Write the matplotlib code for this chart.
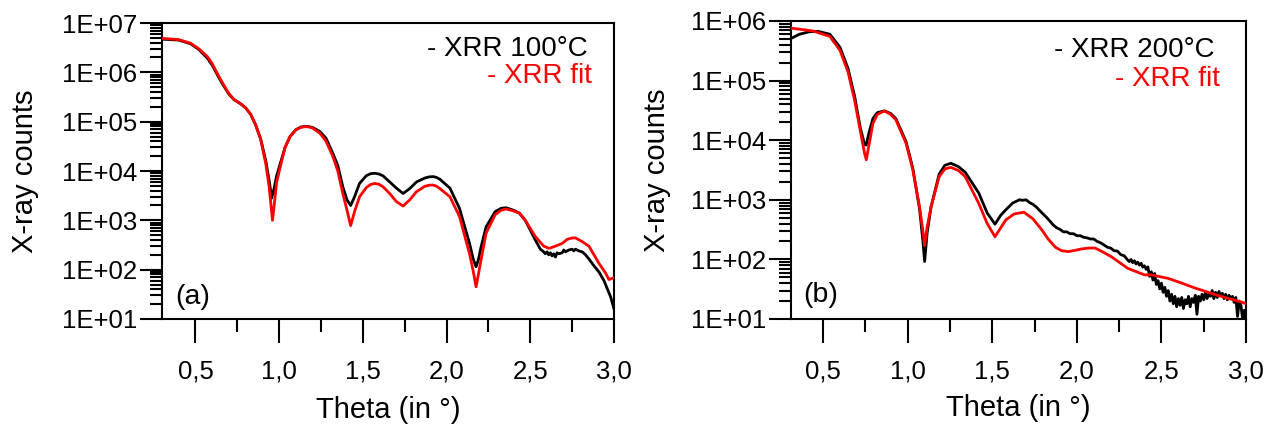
import numpy as np
import matplotlib
matplotlib.use("Agg")
import matplotlib.pyplot as plt
from matplotlib.ticker import FixedLocator, LogLocator, FuncFormatter, NullFormatter

plt.rcParams['font.family'] = ['Liberation Sans', 'DejaVu Sans']

# ---------------- Panel (a): 100 °C ----------------
theta_a_meas = [0.30, 0.40, 0.47, 0.52, 0.57, 0.60, 0.63, 0.66, 0.70, 0.73, 0.77, 0.80, 0.83, 0.86,
                0.89, 0.92, 0.94, 0.955, 0.97, 0.985, 1.006, 1.035, 1.065, 1.10, 1.13, 1.155, 1.18,
                1.20, 1.244, 1.28, 1.32, 1.35, 1.38, 1.405, 1.427, 1.45, 1.48, 1.52, 1.545, 1.57,
                1.595, 1.62, 1.66, 1.70, 1.74, 1.78, 1.82, 1.87, 1.895, 1.92, 1.94, 1.96, 2.02,
                2.077, 2.137, 2.16, 2.176, 2.19, 2.206, 2.236, 2.29, 2.325, 2.355, 2.40, 2.435,
                2.47, 2.53, 2.56, 2.58, 2.59, 2.60, 2.61, 2.62, 2.63, 2.64,
                2.65, 2.66, 2.67, 2.69, 2.70, 2.71, 2.73, 2.75, 2.76, 2.77, 2.79, 2.81, 2.83, 2.85,
                2.88, 2.91, 2.94, 2.96, 2.98, 3.00]
counts_a_meas = [4.7e6, 4.5e6, 3.8e6, 2.9e6, 1.95e6, 1.4e6, 9.0e5, 5.9e5, 3.6e5, 2.8e5, 2.3e5, 1.9e5,
                 1.4e5, 8.5e4, 4.4e4, 1.6e4, 6.5e3, 2.8e3, 4.5e3, 8.0e3, 1.4e4, 3.0e4, 5.0e4, 6.9e4,
                 7.8e4, 8.0e4, 7.9e4, 7.6e4, 6.3e4, 4.6e4, 2.3e4, 1.3e4, 4.8e3, 2.6e3, 2.0e3, 3.0e3,
                 5.6e3, 8.0e3, 8.8e3, 9.0e3, 8.7e3, 8.0e3, 6.0e3, 4.5e3, 3.5e3, 4.4e3, 6.0e3, 7.2e3,
                 7.6e3, 7.7e3, 7.4e3, 6.8e3, 4.5e3, 1.75e3, 3.4e2, 1.6e2, 1.15e2, 1.6e2, 2.9e2, 7.4e2,
                 1.5e3, 1.75e3, 1.8e3, 1.6e3, 1.4e3, 1.0e3, 4.0e2,
                 2.6e2, 2.3e2, 2.1e2, 2.3e2, 2.0e2, 2.2e2, 1.9e2, 2.1e2, 1.8e2, 2.2e2, 2.1e2, 2.2e2,
                 2.5e2, 2.3e2, 2.5e2, 2.6e2, 2.4e2, 2.6e2, 2.4e2, 2.3e2, 2.0e2, 1.65e2, 1.2e2, 90,
                 60, 41, 28, 16]

theta_a_fit = [0.30, 0.40, 0.47, 0.52, 0.57, 0.60, 0.63, 0.66, 0.70, 0.73, 0.77, 0.80, 0.83, 0.86,
               0.89, 0.92, 0.94, 0.95, 0.96, 0.97, 0.985, 1.006, 1.035, 1.065, 1.10, 1.13, 1.155,
               1.18, 1.20, 1.244, 1.28, 1.32, 1.35, 1.38, 1.405, 1.427, 1.45, 1.48, 1.52, 1.545,
               1.57, 1.595, 1.62, 1.66, 1.70, 1.74, 1.78, 1.82, 1.87, 1.895, 1.92, 1.94, 1.96, 2.02,
               2.077, 2.137, 2.16, 2.176, 2.19, 2.206, 2.236, 2.29, 2.325, 2.355, 2.40, 2.435, 2.47,
               2.53, 2.58, 2.613, 2.65, 2.69, 2.72, 2.75, 2.77, 2.81, 2.85, 2.91, 2.95, 2.97, 3.00]
counts_a_fit = [4.9e6, 4.6e6, 3.9e6, 3.0e6, 2.1e6, 1.5e6, 9.5e5, 6.2e5, 3.7e5, 2.8e5, 2.3e5, 1.9e5,
                1.4e5, 8.5e4, 4.3e4, 1.4e4, 4.8e3, 2.2e3, 1.0e3, 2.0e3, 6.0e3, 1.2e4, 3.0e4, 5.0e4,
                6.8e4, 7.7e4, 7.9e4, 7.8e4, 7.4e4, 5.8e4, 4.0e4, 2.0e4, 1.0e4, 3.5e3, 1.6e3, 7.8e2,
                1.5e3, 3.0e3, 4.6e3, 5.3e3, 5.6e3, 5.4e3, 4.8e3, 3.5e3, 2.4e3, 1.95e3, 2.6e3, 3.8e3,
                4.9e3, 5.15e3, 5.2e3, 4.9e3, 4.4e3, 3.0e3, 1.2e3, 2.1e2, 90, 45, 80, 1.6e2, 5.5e2,
                1.3e3, 1.6e3, 1.7e3, 1.55e3, 1.4e3, 1.0e3, 4.7e2, 3.0e2, 2.7e2, 3.0e2, 3.4e2, 4.1e2,
                4.4e2, 4.4e2, 3.7e2, 3.0e2, 1.35e2, 85, 63, 69]

# ---------------- Panel (b): 200 °C ----------------
theta_b_meas = [0.31, 0.36, 0.42, 0.47, 0.54, 0.60, 0.647, 0.686, 0.72, 0.745, 0.755, 0.77, 0.794,
                0.82, 0.863, 0.90, 0.93, 0.99, 1.03, 1.07, 1.09, 1.10, 1.115, 1.138, 1.186, 1.22,
                1.255, 1.30, 1.34, 1.42, 1.47, 1.516, 1.55, 1.58, 1.62, 1.66, 1.68, 1.70, 1.72,
                1.74, 1.76, 1.78, 1.80, 1.82, 1.84, 1.86, 1.88, 1.90, 1.92, 1.94, 1.96, 1.98, 2.00,
                2.02, 2.04, 2.06, 2.08, 2.10, 2.12, 2.14, 2.16, 2.18, 2.20, 2.22, 2.24, 2.26, 2.28,
                2.30, 2.31, 2.32, 2.33, 2.34, 2.35, 2.36, 2.37, 2.38, 2.39, 2.40, 2.41, 2.42, 2.43,
                2.44, 2.45, 2.46, 2.47, 2.48, 2.49, 2.50, 2.51, 2.52, 2.53, 2.54, 2.55, 2.56, 2.57,
                2.58, 2.59, 2.60, 2.61, 2.62, 2.63, 2.64, 2.65, 2.66, 2.67, 2.68, 2.69, 2.70, 2.71,
                2.72, 2.73, 2.74, 2.75, 2.76, 2.77, 2.78, 2.79, 2.80, 2.81, 2.82, 2.83, 2.84, 2.85,
                2.86, 2.87, 2.88, 2.89, 2.90, 2.91, 2.92, 2.93, 2.94, 2.95, 2.96, 2.97, 2.98, 2.99,
                3.00]
counts_b_meas = [5.1e5, 6.0e5, 6.6e5, 6.7e5, 6.0e5, 3.6e5, 1.6e5, 5.5e4, 1.6e4, 8.5e3, 8.3e3, 1.3e4,
                 2.3e4, 2.9e4, 3.1e4, 2.8e4, 2.3e4, 9.5e3, 3.4e3, 7.0e2, 2.0e2, 92, 2.8e2, 7.6e2,
                 2.7e3, 3.8e3, 4.1e3, 3.6e3, 2.9e3, 1.3e3, 6.0e2, 3.9e2, 5.5e2, 6.8e2, 8.8e2, 1.0e3,
                 9.8e2, 1.0e3, 9.0e2, 8.4e2, 7.6e2, 6.6e2, 5.8e2, 5.1e2, 4.4e2, 3.8e2, 3.4e2, 3.2e2,
                 2.9e2, 2.9e2, 2.7e2, 2.7e2, 2.5e2, 2.5e2, 2.35e2, 2.3e2, 2.2e2, 2.2e2, 2.0e2, 1.9e2,
                 1.75e2, 1.6e2, 1.55e2, 1.4e2, 1.38e2, 1.2e2, 1.15e2,
                 98, 92, 100, 88, 95, 84, 90, 80, 86, 74, 78, 68, 75, 52, 62, 45, 58, 38, 44, 32,
                 40, 28, 34, 24, 30, 20, 26, 18, 24, 16, 22, 17, 23, 15, 21, 18, 24, 16, 22, 19,
                 25, 12, 24, 20, 26, 21, 28, 22, 27, 24, 30, 22, 28, 23, 29, 25, 27, 22, 26, 21,
                 25, 22, 24, 19, 23, 11, 20, 17, 10, 14, 10]

theta_b_fit = [0.31, 0.44, 0.54, 0.60, 0.647, 0.686, 0.726, 0.745, 0.755, 0.77, 0.794, 0.82, 0.863,
               0.90, 0.93, 0.99, 1.03, 1.07, 1.09, 1.10, 1.115, 1.138, 1.186, 1.22, 1.255, 1.30,
               1.34, 1.42, 1.47, 1.516, 1.55, 1.58, 1.63, 1.687, 1.74, 1.794, 1.83, 1.873, 1.91,
               1.95, 1.99, 2.03, 2.07, 2.108, 2.15, 2.206, 2.30, 2.40, 2.44, 2.54, 2.62, 2.70,
               2.83, 2.98, 3.00]
counts_b_fit = [7.6e5, 6.8e5, 5.5e5, 3.2e5, 1.4e5, 4.7e4, 1.15e4, 6.0e3, 4.7e3, 8.0e3, 1.9e4, 2.7e4,
                3.1e4, 2.7e4, 2.2e4, 8.9e3, 3.2e3, 7.6e2, 3.0e2, 1.7e2, 3.5e2, 7.6e2, 2.45e3, 3.3e3,
                3.5e3, 3.1e3, 2.45e3, 8.7e2, 4.0e2, 2.4e2, 3.4e2, 4.6e2, 5.8e2, 6.2e2, 4.8e2, 3.1e2,
                2.2e2, 1.6e2, 1.4e2, 1.35e2, 1.42e2, 1.5e2, 1.55e2, 1.55e2, 1.35e2, 1.1e2, 71, 55,
                55, 48, 40, 33, 25, 19, 18]

x_major = [0.5, 1.0, 1.5, 2.0, 2.5, 3.0]
x_minor = [0.75, 1.25, 1.75, 2.25, 2.75]
x_labels = ["0,5", "1,0", "1,5", "2,0", "2,5", "3,0"]

panels = [
    dict(rect=[162 / 1268, 1 - 319 / 428, 452 / 1268, 296 / 428], xlim=(0.30, 3.0), ylim=(10, 1e7),
         meas=(theta_a_meas, counts_a_meas), fit=(theta_a_fit, counts_a_fit),
         leg1="- XRR 100°C", leg1pos=(0.9425, 0.8885), leg2pos=(0.952, 0.797),
         tag="(a)", tagpos=(0.029, 0.076), ylab_x=-0.303, xlab_y=-0.307),
    dict(rect=[791 / 1268, 1 - 319 / 428, 455 / 1268, 298 / 428], xlim=(0.31, 3.0), ylim=(10, 1e6),
         meas=(theta_b_meas, counts_b_meas), fit=(theta_b_fit, counts_b_fit),
         leg1="- XRR 200°C", leg1pos=(0.932, 0.878), leg2pos=(0.943, 0.781),
         tag="(b)", tagpos=(0.026, 0.079), ylab_x=-0.2945, xlab_y=-0.299),
]

fig = plt.figure(figsize=(12.68, 4.28), dpi=100)

def ylab_fmt(v, pos):
    e = int(round(np.log10(v)))
    return f"1E+{e:02d}"

for p in panels:
    ax = fig.add_axes(p["rect"])
    ax.plot(p["meas"][0], p["meas"][1], color="black", lw=2.0, zorder=2)
    ax.plot(p["fit"][0], p["fit"][1], color="#ff0000", lw=2.0, zorder=3)
    ax.set_yscale("log")
    ax.set_xlim(*p["xlim"])
    ax.set_ylim(*p["ylim"])
    ax.xaxis.set_major_locator(FixedLocator(x_major))
    ax.xaxis.set_minor_locator(FixedLocator(x_minor))
    ax.set_xticklabels(x_labels)
    ax.yaxis.set_major_locator(LogLocator(base=10, numticks=20))
    ax.yaxis.set_minor_locator(LogLocator(base=10, subs=np.arange(2, 10), numticks=20))
    ax.yaxis.set_major_formatter(FuncFormatter(ylab_fmt))
    ax.yaxis.set_minor_formatter(NullFormatter())
    ax.tick_params(axis="both", which="both", direction="out", width=1.5, top=False, right=False)
    ax.tick_params(axis="x", which="major", length=17, pad=12, labelsize=18.5)
    ax.tick_params(axis="x", which="minor", length=9)
    ax.tick_params(axis="y", which="major", length=16, pad=2, labelsize=18.5)
    ax.tick_params(axis="y", which="minor", length=9)
    for s in ax.spines.values():
        s.set_linewidth(1.5)
    ax.set_ylabel("X-ray counts", fontsize=21)
    ax.yaxis.label.set_va("center")
    ax.yaxis.set_label_coords(p["ylab_x"], 0.5)
    ax.set_xlabel("Theta (in °)", fontsize=21)
    ax.xaxis.label.set_va("center")
    ax.xaxis.set_label_coords(0.5, p["xlab_y"])
    ax.text(*p["leg1pos"], p["leg1"], transform=ax.transAxes, ha="right", va="baseline",
            fontsize=20, color="black")
    ax.text(*p["leg2pos"], "- XRR fit", transform=ax.transAxes, ha="right", va="baseline",
            fontsize=20, color="#ff0000")
    ax.text(*p["tagpos"], p["tag"], transform=ax.transAxes, ha="left", va="center",
            fontsize=20.5, color="black")

fig.savefig("out.png", dpi=100)
